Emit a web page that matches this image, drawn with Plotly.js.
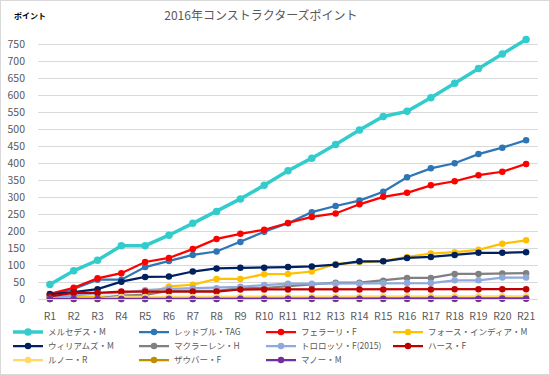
<!DOCTYPE html>
<html>
<head>
<meta charset="utf-8">
<script src="https://cdn.plot.ly/plotly-3.0.1.min.js"></script>
<style>
html,body{margin:0;padding:0;background:#fff;}
#wrap{position:relative;width:550px;height:375px;}
#chart{width:550px;height:375px;}
#frame{position:absolute;left:0;top:0;width:548px;height:373px;border:1px solid #D9D9D9;pointer-events:none;}
</style>
</head>
<body>
<div id="wrap"><div id="chart"></div><div id="frame"></div></div>
<script>
const rounds = ["R1","R2","R3","R4","R5","R6","R7","R8","R9","R10","R11","R12","R13","R14","R15","R16","R17","R18","R19","R20","R21"];

const mercedes   = [43,83,114,157,157,188,223,258,295,335,378,415,455,498,538,553,593,636,679,722,765];
const redbull    = [12,30,57,57,94,112,130,140,168,198,223,256,274,290,316,359,385,400,427,446,468];
const ferrari    = [15,33,61,76,109,121,147,177,192,204,224,242,252,279,301,313,335,347,365,375,398];
const forceIndia = [6,6,6,8,14,37,42,59,59,73,74,81,103,108,112,124,134,138,145,163,173];
const williams   = [14,20,29,51,65,66,81,90,92,92,94,96,101,111,111,121,124,130,136,136,138];
const mclaren    = [0,1,1,10,12,24,24,24,32,32,38,42,48,48,54,62,62,74,74,75,76];
const tororosso  = [3,11,17,17,26,30,32,32,36,41,45,45,45,45,47,47,47,55,55,63,63];
const haas       = [8,18,18,22,22,22,22,22,28,28,28,28,28,28,28,28,28,29,29,29,29];
const renault    = [0,0,0,6,6,6,6,6,6,6,6,6,6,6,7,8,8,8,8,8,8];
const sauber     = [0,0,0,0,0,0,0,0,0,0,0,0,0,0,0,0,0,0,0,2,2];
const manor      = [0,0,0,0,0,0,0,0,1,1,1,1,1,1,1,1,1,1,1,1,1];

const teamNames = ["メルセデス・M","レッドブル・TAG","フェラーリ・F","フォース・インディア・M","ウィリアムズ・M","マクラーレン・H","トロロッソ・F(2015)","ハース・F","ルノー・R","ザウバー・F","マノー・M"];
const series = [mercedes, redbull, ferrari, forceIndia, williams, mclaren, tororosso, haas, renault, sauber, manor];
const colors = ["#33CCCC","#2E75B6","#FF0000","#FFC000","#002060","#808080","#8EA9DB","#C00000","#FFD966","#BF8F00","#7030A0"];

const FONT = '"Noto Sans CJK JP", "Noto Sans", sans-serif';

// legend grid (pixels): column symbol starts and row centres
const legendCols = [22, 148, 275, 402];
const legendRows = [332, 346, 360];

const traces = series.map((vals, i) => ({
  type: 'scatter',
  mode: 'lines+markers',
  x: rounds,
  y: vals,
  name: teamNames[i],
  legend: i === 0 ? 'legend' : 'legend' + (i + 1),
  cliponaxis: false,
  line: {color: colors[i], width: i === 0 ? 3.5 : 2.25},
  marker: {color: colors[i], size: i === 0 ? 7.5 : 6.5, symbol: 'circle'}
}));

function legendBox(i) {
  const cx = legendCols[i % 4] - 14;
  const cy = legendRows[Math.floor(i / 4)];
  return {
    orientation: 'h',
    xref: 'container', yref: 'container',
    x: cx / 550, y: 1 - cy / 375, xanchor: 'left', yanchor: 'middle',
    itemwidth: 30,
    bgcolor: 'rgba(0,0,0,0)',
    font: {family: FONT, size: 8.5, color: '#595959'}
  };
}

const layout = {
  width: 550, height: 375,
  margin: {l: 38, r: 12, t: 36, b: 76},
  paper_bgcolor: '#ffffff',
  plot_bgcolor: '#ffffff',
  font: {family: FONT, color: '#595959'},
  title: {
    text: '2016年コンストラクターズポイント',
    x: 0.4745, xanchor: 'center',
    y: 0.957, yanchor: 'middle',
    font: {family: FONT, size: 12, color: '#595959'}
  },
  xaxis: {
    type: 'category',
    range: [-0.5, 20.5],
    showgrid: false,
    showline: true, linecolor: '#D9D9D9', linewidth: 1,
    ticks: '',
    ticklabelstandoff: 7,
    tickfont: {family: FONT, size: 10.5, color: '#595959'},
    fixedrange: true
  },
  yaxis: {
    range: [0, 775],
    dtick: 50,
    showgrid: true, gridcolor: '#D9D9D9', gridwidth: 1,
    zeroline: false,
    showline: false,
    ticks: '',
    ticklabelstandoff: 12,
    tickfont: {family: FONT, size: 10.5, color: '#595959'},
    fixedrange: true
  },
  showlegend: true,
  annotations: [{
    text: '<b>ポイント</b>',
    xref: 'paper', yref: 'paper',
    x: (12 - 38) / 500, y: (299 - 15) / 263,
    xanchor: 'left', yanchor: 'middle',
    showarrow: false,
    font: {family: FONT, size: 8, color: '#000000'}
  }]
};
series.forEach((s, i) => { layout[i === 0 ? 'legend' : 'legend' + (i + 1)] = legendBox(i); });

Plotly.newPlot('chart', traces, layout, {displayModeBar: false, staticPlot: true});
</script>
</body>
</html>
